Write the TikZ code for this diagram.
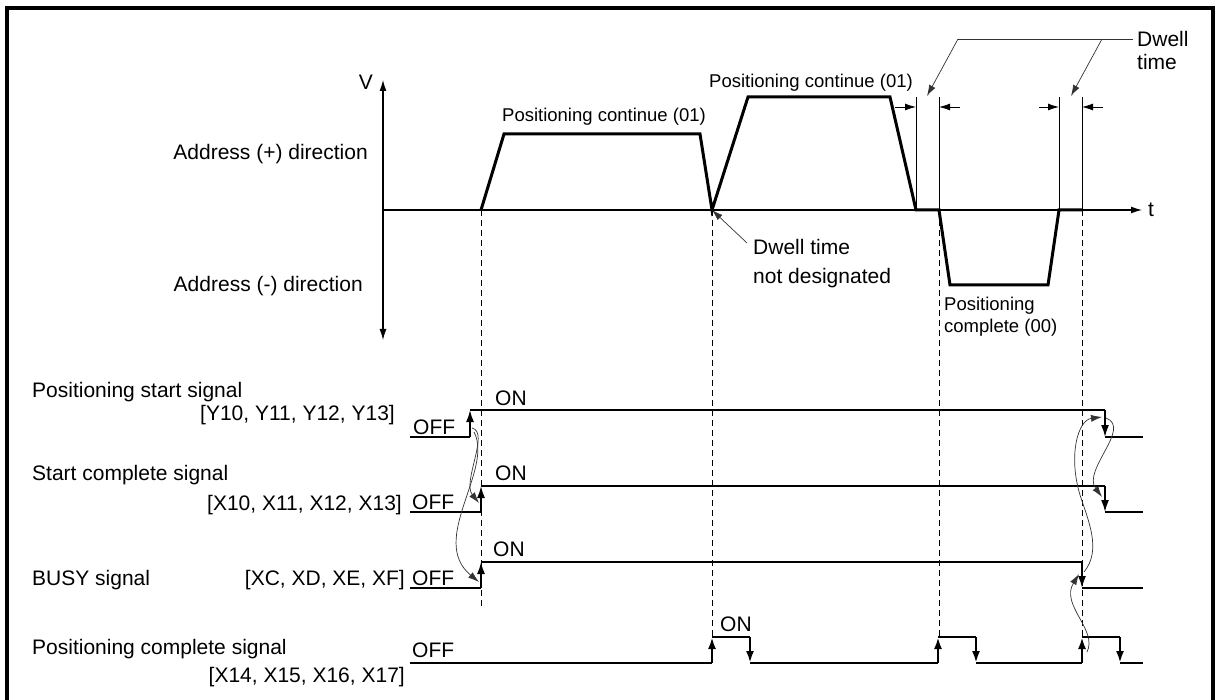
\documentclass[tikz,border=0pt]{standalone}
\usepackage{fontspec}
\setmainfont{Liberation Sans}
\usetikzlibrary{arrows.meta}
\begin{document}
\begin{tikzpicture}[x=1pt,y=-1pt,
  frameline/.style={line width=4pt},
  prof/.style={line width=3pt, line join=miter},
  axisline/.style={line width=1.2pt},
  sig/.style={line width=1.7pt},
  sigb/.style={line width=2.5pt},
  edgearrow/.style={-{Latex[length=12pt,width=8pt]}},
  guide/.style={dash pattern=on 6pt off 4pt, line width=1pt},
  leader/.style={line width=0.7pt, draw=black!80},
  smallarrow/.style={-{Latex[length=11pt,width=7pt]}},
  curvearrow/.style={line width=0.7pt, draw=black!80, -{Latex[length=11pt,width=7pt]}},
  dimline/.style={line width=0.8pt},
  lab/.style={font=\fontsize{21}{25}\selectfont, inner sep=0pt},
  slab/.style={font=\fontsize{18.5}{22}\selectfont, inner sep=0pt}
]
\useasboundingbox (0,0) rectangle (1215,700);
% frame
\draw[frameline] (6.5,702) -- (6.5,8.5) -- (1213,8.5) -- (1213,702);

% axes
\coordinate (O) at (383,210);
\coordinate (Vtop) at (383,80);
\coordinate (Vbot) at (383,340);
\coordinate (tend) at (1142,210);
\draw[axisline,-{Latex[length=11pt,width=7pt]}] (O) -- (Vtop);
\draw[axisline,-{Latex[length=11pt,width=7pt]}] (O) -- (Vbot);
\draw[axisline,-{Latex[length=11pt,width=7pt]}] (O) -- (tend);
\node[lab, anchor=base east] (vlab) at (373,90) {V};
\node[lab, anchor=base west] (tlab) at (1148,217) {t};
\node[lab, anchor=base east] (plus) at (368,160) {Address (+) direction};
\node[lab, anchor=base east] (minus) at (363,292) {Address (-) direction};

% velocity profile
\coordinate (a0) at (481,210);
\coordinate (a1) at (504,134);
\coordinate (a2) at (700,134);
\coordinate (a3) at (712,210);
\coordinate (b1) at (748,97);
\coordinate (b2) at (890,97);
\coordinate (b3) at (916,210);
\coordinate (b4) at (939,210);
\coordinate (c1) at (950,285);
\coordinate (c2) at (1048,285);
\coordinate (c3) at (1059,210);
\coordinate (c4) at (1082,210);
\draw[prof] (a0) -- (a1) -- (a2) -- (a3) -- (b1) -- (b2) -- (b3) -- (b4) -- (c1) -- (c2) -- (c3) -- (c4);

\node[slab, anchor=base] (pc1) at (604,122) {Positioning continue (01)};
\node[slab, anchor=base east] (pc2) at (913,88) {Positioning continue (01)};

% dwell time marks
\draw[dimline] (916,97) -- (b3);
\draw[dimline] (939,97) -- (b4);
\draw[dimline] (1059,97) -- (c3);
\draw[dimline] (1082,97) -- (c4);
\draw[dimline,smallarrow] (895,107) -- (916,107);
\draw[dimline,smallarrow] (960,107) -- (939,107);
\draw[dimline,smallarrow] (1039,107) -- (1059,107);
\draw[dimline,smallarrow] (1103,107) -- (1082,107);
\node[lab, anchor=base west] (dwl) at (1137,47) {Dwell};
\node[lab, anchor=base west] (dwl2) at (1137,70) {time};
\coordinate (dl0) at (1133,39);
\coordinate (dl1) at (958,39);
\coordinate (dl2) at (1102,39);
\draw[leader] (dl0) -- (dl1);
\draw[leader,smallarrow] (dl1) -- (927,96);
\draw[leader,smallarrow] (dl2) -- (1071,96);

% dwell not designated
\node[lab, anchor=base west] (dnd1) at (753,255) {Dwell time};
\node[lab, anchor=base west] (dnd2) at (753,284) {not designated};
\draw[leader,smallarrow] (747,243) -- (a3);

\node[slab, anchor=base west] (pcomp1) at (944,311) {Positioning};
\node[slab, anchor=base west] (pcomp2) at (944,333) {complete (00)};

% guide dashed lines
\draw[guide] (a0) -- (481,606);
\draw[guide] (a3) -- (712,637);
\draw[guide] (b4) -- (939,637);
\draw[guide] (c4) -- (1082,637);

% signal labels
\node[lab, anchor=base west] (s1) at (32,397) {Positioning start signal};
\node[lab, anchor=base east] (s1b) at (395,420) {[Y10, Y11, Y12, Y13]};
\node[lab, anchor=base west] (s2) at (32,480) {Start complete signal};
\node[lab, anchor=base east] (s2b) at (402,510) {[X10, X11, X12, X13]};
\node[lab, anchor=base west] (s3) at (32,585) {BUSY signal};
\node[lab, anchor=base east] (s3b) at (405,585) {[XC, XD, XE, XF]};
\node[lab, anchor=base west] (s4) at (32,654) {Positioning complete signal};
\node[lab, anchor=base east] (s4b) at (405,682) {[X14, X15, X16, X17]};

\node[lab, anchor=base west] (off1) at (413,434) {OFF};
\node[lab, anchor=base west] (off2) at (412,509) {OFF};
\node[lab, anchor=base west] (off3) at (412,585) {OFF};
\node[lab, anchor=base west] (off4) at (412,657) {OFF};
\node[lab, anchor=base west] (on1) at (495,405) {ON};
\node[lab, anchor=base west] (on2) at (495,480) {ON};
\node[lab, anchor=base west] (on3) at (493,556) {ON};
\node[lab, anchor=base west] (on4) at (720,631) {ON};

% signal 1
\draw[sig] (410,437) -- (470,437);
\draw[sig,edgearrow] (470,437) -- (470,410);
\draw[sig] (470,410) -- (1105,410);
\draw[sig,edgearrow] (1105,410) -- (1105,437);
\draw[sig] (1105,437) -- (1143,437);
% signal 2
\draw[sig] (410,512) -- (481,512);
\draw[sig,edgearrow] (481,512) -- (481,486);
\draw[sig] (481,486) -- (1105,486);
\draw[sig,edgearrow] (1105,486) -- (1105,512);
\draw[sig] (1105,512) -- (1143,512);
% signal 3
\draw[sig] (410,588) -- (481,588);
\draw[sig,edgearrow] (481,588) -- (481,562);
\draw[sig] (481,562) -- (1082,562);
\draw[sig,edgearrow] (1082,562) -- (1082,588);
\draw[sig] (1082,588) -- (1143,588);
% signal 4
\draw[sigb] (410,663) -- (712,663);
\draw[sigb,edgearrow] (712,663) -- (712,637);
\draw[sigb] (712,637) -- (750,637);
\draw[sigb,edgearrow] (750,637) -- (750,663);
\draw[sigb] (750,663) -- (938,663);
\draw[sigb,edgearrow] (938,663) -- (938,637);
\draw[sigb] (938,637) -- (976,637);
\draw[sigb,edgearrow] (976,637) -- (976,663);
\draw[sigb] (976,663) -- (1082,663);
\draw[sigb,edgearrow] (1082,663) -- (1082,637);
\draw[sigb] (1082,637) -- (1120,637);
\draw[sigb,edgearrow] (1120,637) -- (1120,663);
\draw[sigb] (1120,663) -- (1143,663);

% curved arrows left
\draw[curvearrow] (472,428) .. controls (490,432) and (462,482) .. (479,503);
\draw[curvearrow] (474,432) .. controls (494,470) and (428,540) .. (479,582);
% curved arrows right
\draw[curvearrow] (1106,418) .. controls (1132,428) and (1082,470) .. (1102,497);
\draw[curvearrow] (1084,572) .. controls (1102,550) and (1088,520) .. (1080,495) .. controls (1068,455) and (1078,420) .. (1102,417);
\draw[curvearrow] (1087,652) .. controls (1098,630) and (1060,605) .. (1079,574);
\end{tikzpicture}
\end{document}
